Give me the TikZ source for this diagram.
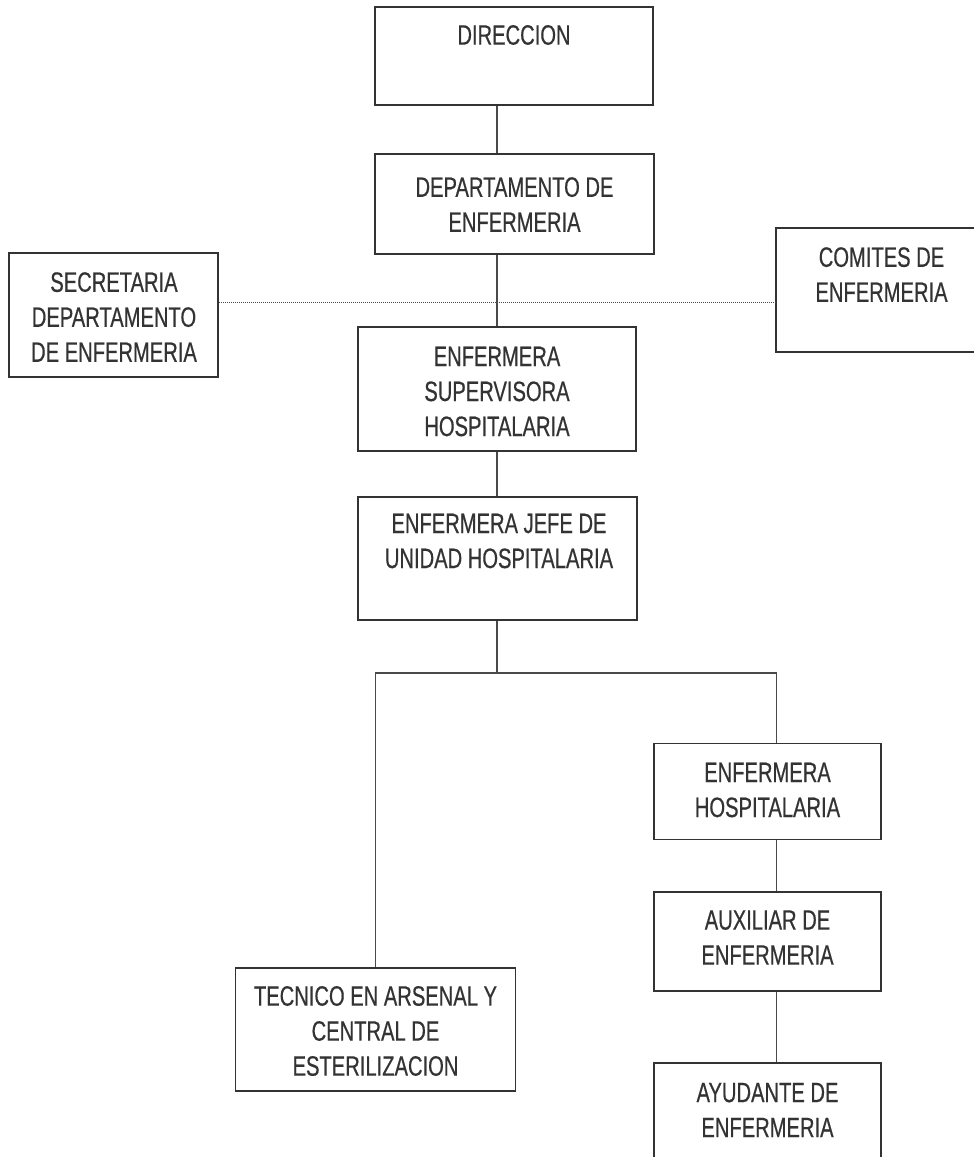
\documentclass[tikz,border=0pt]{standalone}
\usepackage{fontspec}
\setmainfont{Liberation Sans}[FakeStretch=0.72,FakeBold=0.5]
\usetikzlibrary{calc}
\definecolor{txt}{HTML}{333333}
\definecolor{edge}{HTML}{333333}
\definecolor{conn}{HTML}{4a4a4a}
\tikzset{
  box/.style={draw=edge, line width=1.6pt, rectangle, inner sep=0pt, fill=none},
  lbl/.style={text=txt, align=center, inner sep=0pt, font=\fontsize{28}{35}\selectfont},
  link/.style={draw=conn, line width=1.1pt},
  dotline/.style={draw=conn, line width=1pt, dash pattern=on 1pt off 1pt}
}
\begin{document}
\begin{tikzpicture}[x=1pt, y=-1pt]
\useasboundingbox[fill=white] (0,0) rectangle (974,1157);
% boxes
\node[box, minimum width=278pt, minimum height=98pt]  (dir)  at (514,56) {};
\node[box, minimum width=279pt, minimum height=100pt] (dep)  at (514.5,204) {};
\node[box, minimum width=209pt, minimum height=124pt] (sec)  at (113.5,315) {};
\node[box, minimum width=211pt, minimum height=124pt] (com)  at (881.5,290) {};
\node[box, minimum width=278pt, minimum height=124pt] (sup)  at (497,389) {};
\node[box, minimum width=279pt, minimum height=123pt] (jefe) at (497.5,558.5) {};
\node[box, minimum width=227pt, minimum height=96pt]  (eh)   at (767.5,791.5) {};
\node[box, minimum width=227pt, minimum height=99pt]  (aux)  at (767.5,941.5) {};
\node[box, minimum width=227pt, minimum height=124pt] (ayu)  at (767.5,1125) {};
\node[box, minimum width=280pt, minimum height=123pt] (tec)  at (375.5,1029.5) {};
% labels
\node[lbl] (tdir)  at (514,35) {DIRECCION};
\node[lbl] (tdep)  at (514.5,204.5) {DEPARTAMENTO DE\\ENFERMERIA};
\node[lbl] (tsec)  at (114,317) {SECRETARIA\\DEPARTAMENTO\\DE ENFERMERIA};
\node[lbl] (tcom)  at (881.5,274.5) {COMITES DE\\ENFERMERIA};
\node[lbl] (tsup)  at (497,391.5) {ENFERMERA\\SUPERVISORA\\HOSPITALARIA};
\node[lbl] (tjefe) at (499,541) {ENFERMERA JEFE DE\\UNIDAD HOSPITALARIA};
\node[lbl] (teh)   at (767.5,790) {ENFERMERA\\HOSPITALARIA};
\node[lbl] (taux)  at (767.5,937.5) {AUXILIAR DE\\ENFERMERIA};
\node[lbl] (tayu)  at (767.5,1110) {AYUDANTE DE\\ENFERMERIA};
\node[lbl] (ttec)  at (375.5,1031) {TECNICO EN ARSENAL Y\\CENTRAL DE\\ESTERILIZACION};
% connectors
\coordinate (dl) at (0,302);
\coordinate (rb) at (776.5,673);
\draw[link] (sup.north |- dir.south) -- (sup.north |- dep.north);
\draw[link] (sup.north |- dep.south) -- (sup.north);
\draw[link] (sup.south) -- (sup.south |- jefe.north);
\draw[link] (sup.south |- jefe.south) -- (sup.south |- rb);
\draw[link] (tec.north) |- (rb) -- (rb |- eh.north);
\draw[link] (rb |- eh.south) -- (rb |- aux.north);
\draw[link] (rb |- aux.south) -- (rb |- ayu.north);
\draw[dotline] (sec.east |- dl) -- (com.west |- dl);
\end{tikzpicture}
\end{document}
